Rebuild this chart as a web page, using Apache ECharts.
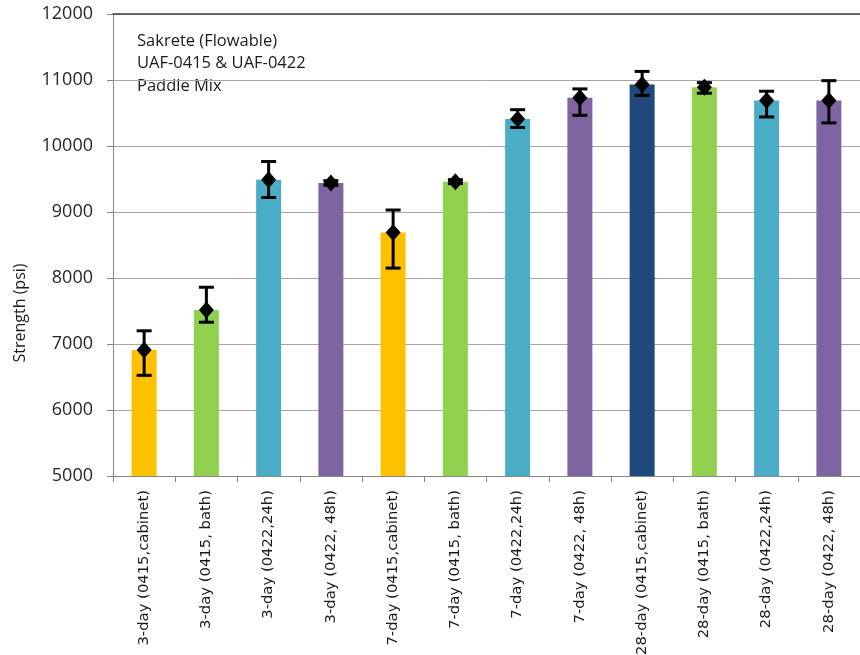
<!DOCTYPE html>
<html>
<head>
<meta charset="utf-8">
<script src="https://cdn.jsdelivr.net/npm/echarts@6/dist/echarts.min.js"></script>
<style>
  html, body { margin: 0; padding: 0; background: #fff; }
  #chart { width: 860px; height: 655px; }
</style>
</head>
<body>
<div id="chart"></div>
<script>
// sample names along the x axis
const categories = [
  '3-day (0415,cabinet)', '3-day (0415, bath)', '3-day (0422,24h)', '3-day (0422, 48h)',
  '7-day (0415,cabinet)', '7-day (0415, bath)', '7-day (0422,24h)', '7-day (0422, 48h)',
  '28-day (0415,cabinet)', '28-day (0415, bath)', '28-day (0422,24h)', '28-day (0422, 48h)'
]
// mean strength (psi)
const strength = [6910, 7515, 9490, 9440, 8690, 9460, 10410, 10730, 10930, 10890, 10690, 10690]
// error bar ends (psi)
const errLow = [6525, 7330, 9220, 9405, 8150, 9430, 10280, 10465, 10765, 10800, 10440, 10350]
const errHigh = [7200, 7860, 9765, 9475, 9030, 9490, 10550, 10865, 11130, 10960, 10830, 10990]
const yTicks = { min: 5000, max: 12000, interval: 1000 }
const noteLines = ['Sakrete (Flowable)', 'UAF-0415 & UAF-0422', 'Paddle Mix']

const barColors = ['#FFC000', '#92D050', '#4BACC6', '#8064A2', '#FFC000', '#92D050',
  '#4BACC6', '#8064A2', '#1F497D', '#92D050', '#4BACC6', '#8064A2']

const chart = echarts.init(document.getElementById('chart'))

const option = {
  animation: false,
  grid: { left: 113, right: 0, top: 14, bottom: 179, outerBoundsMode: 'none' },
  xAxis: [
    {
      type: 'category',
      data: categories,
      axisLine: { lineStyle: { color: '#868686', width: 1 } },
      axisTick: { show: true, length: 6, lineStyle: { color: '#868686' } },
      axisLabel: {
        rotate: 90,
        interval: 0,
        margin: 14,
        fontFamily: 'DejaVu Sans',
        fontSize: 14.8,
        color: '#1a1a1a'
      }
    },
    {
      // dark top border of the plot area
      type: 'category',
      position: 'top',
      data: categories,
      axisLine: { lineStyle: { color: '#404040', width: 1.5 } },
      axisTick: { show: false },
      axisLabel: { show: false }
    }
  ],
  yAxis: {
    type: 'value',
    min: yTicks.min,
    max: yTicks.max,
    interval: yTicks.interval,
    axisLine: { show: true, lineStyle: { color: '#868686' } },
    axisTick: { show: true, length: 6, lineStyle: { color: '#868686' } },
    axisLabel: {
      margin: 20,
      fontFamily: 'Open Sans',
      fontSize: 18,
      color: '#262626',
      formatter: v => String(v)
    },
    splitLine: { lineStyle: { color: '#A6A6A6', width: 1 } }
  },
  graphic: [
    {
      type: 'text',
      x: 20,
      y: 313,
      rotation: Math.PI / 2,
      style: {
        text: 'Strength (psi)',
        font: '16px "Open Sans"',
        fill: '#1a1a1a',
        textAlign: 'center',
        textVerticalAlign: 'middle'
      }
    },
    {
      type: 'text',
      left: 137,
      top: 30,
      style: {
        text: noteLines.join('\n'),
        font: '16.5px "Open Sans"',
        lineHeight: 22.5,
        fill: '#1a1a1a'
      }
    }
  ],
  series: [
    {
      type: 'bar',
      barWidth: 25,
      data: strength.map((v, i) => ({ value: v, itemStyle: { color: barColors[i] } })),
      z: 2
    },
    {
      type: 'custom',
      z: 5,
      data: categories.map((c, i) => [i, errLow[i], errHigh[i]]),
      renderItem: function (params, api) {
        const lo = api.coord([api.value(0), api.value(1)])
        const hi = api.coord([api.value(0), api.value(2)])
        const half = 7.5
        const st = { stroke: '#000', lineWidth: 3 }
        return {
          type: 'group',
          children: [
            { type: 'line', shape: { x1: lo[0], y1: lo[1], x2: hi[0], y2: hi[1] }, style: st },
            { type: 'line', shape: { x1: lo[0] - half, y1: lo[1], x2: lo[0] + half, y2: lo[1] }, style: st },
            { type: 'line', shape: { x1: hi[0] - half, y1: hi[1], x2: hi[0] + half, y2: hi[1] }, style: st }
          ]
        }
      }
    },
    {
      type: 'scatter',
      symbol: 'diamond',
      symbolSize: [15, 17],
      itemStyle: { color: '#000', opacity: 1 },
      data: strength,
      z: 6
    }
  ]
}

chart.setOption(option)
</script>
</body>
</html>
